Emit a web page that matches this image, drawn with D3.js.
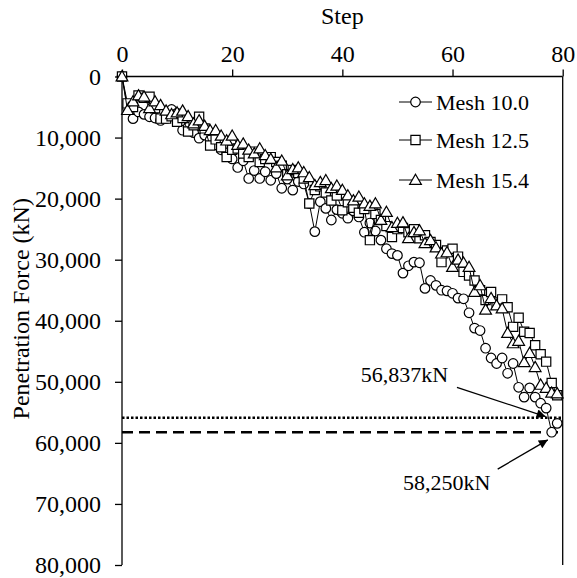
<!DOCTYPE html>
<html><head><meta charset="utf-8">
<script src="https://cdn.jsdelivr.net/npm/d3@7"></script>
<style>body{margin:0;background:#fff}svg{display:block}text{font-family:"Liberation Serif","Times New Roman",serif;fill:#000}</style>
</head><body><div id="chart"></div>
<script>
const seriesNames = ["Mesh 10.0", "Mesh 12.5", "Mesh 15.4"];
const xTicks = [0, 20, 40, 60, 80];
const yTicks = [0, 10000, 20000, 30000, 40000, 50000, 60000, 70000, 80000];
const mesh100 = [0,5200,6900,5800,6200,6600,6800,7200,6900,5400,6000,8800,8300,9200,10100,9600,10400,11200,12000,12500,13500,14900,13800,16700,15400,16700,15600,17000,15900,18300,16800,18600,17200,17600,20800,25400,20500,21600,23500,21800,22400,23200,22000,23000,25500,24000,25300,26800,28200,29000,29300,32200,31000,30400,30500,34700,33400,34200,35000,35100,35500,36300,36400,38700,41200,41600,44500,46100,47000,46100,48600,47000,50900,52500,51000,52500,53500,54300,58250,56800];
const mesh125 = [0,4400,5000,3100,3500,3300,5200,6900,6900,6500,7400,6800,9000,8000,6600,8500,11300,10300,11600,13200,12000,11800,12600,13200,12300,14000,13500,13200,14000,14600,16000,15300,15800,16700,20800,18600,18000,19000,20300,19500,21900,20600,21500,22300,21700,26800,22500,23500,24500,26300,25000,24800,25500,25000,26500,26000,27100,27600,30400,28500,28200,29500,32000,32600,33400,35000,36600,35300,37000,36500,37800,41000,39500,41800,42000,44000,45500,46700,50200,52200];
const mesh154 = [0,5500,4100,3100,3300,5200,4100,4700,5600,6200,5900,5600,6500,7700,7200,8100,8800,8800,9700,10500,9700,11200,11000,12000,12600,11800,12900,13500,14900,13800,16200,15200,14900,15700,16500,17800,17300,17000,18300,17900,18600,19500,20300,19700,20800,21200,20800,23500,22200,24700,24000,23900,26500,25500,25200,27300,26800,28000,29000,28800,31200,30000,30500,31200,35300,34200,38200,36300,37500,38000,42000,43700,43300,46800,45300,47600,50500,51000,51800,51900];
const refValues = [55900, 58250];
const refLabels = ["56,837kN", "58,250kN"];

const W = 577, H = 578;
const svg = d3.select("#chart").append("svg").attr("width", W).attr("height", H);
const x = d3.scaleLinear().domain([0, 80]).range([122, 562.7]);
const y = d3.scaleLinear().domain([0, 80000]).range([76.5, 565]);

// axes
const gx = svg.append("g").attr("transform", `translate(0,${y(0)})`)
  .call(d3.axisTop(x).tickValues(xTicks).tickSize(7).tickSizeOuter(0).tickPadding(8));
gx.selectAll("text").style("font-size", "24px").attr("fill", "#000");
const gy = svg.append("g").attr("transform", `translate(${x(0)},0)`)
  .call(d3.axisLeft(y).tickValues(yTicks).tickFormat(d3.format(",")).tickSize(7).tickSizeOuter(0).tickPadding(14));
gy.selectAll("text").style("font-size", "24px").attr("fill", "#000");
svg.selectAll(".domain, .tick line").attr("stroke", "#000").attr("stroke-width", 1.3);
gx.select(".domain").remove();
gy.select(".domain").remove();
svg.append("line").attr("x1", x(0)).attr("x2", x(80)).attr("y1", y(0)).attr("y2", y(0)).attr("stroke", "#000").attr("stroke-width", 1.3);
svg.append("line").attr("x1", x(0)).attr("x2", x(0)).attr("y1", y(0)).attr("y2", y(80000)).attr("stroke", "#000").attr("stroke-width", 1.3);
svg.append("line").attr("x1", x(80)).attr("x2", x(80)).attr("y1", y(0)).attr("y2", y(80000)).attr("stroke", "#000").attr("stroke-width", 1.3);

svg.append("text").attr("x", (x(0) + x(80)) / 2).attr("y", 24).attr("text-anchor", "middle").style("font-size", "24px").text("Step");
svg.append("text").attr("transform", `translate(29,${(y(0) + y(80000)) / 2 - 12}) rotate(-90)`).attr("text-anchor", "middle").style("font-size", "24px").text("Penetration Force (kN)");

// reference lines
svg.append("line").attr("x1", x(0)).attr("x2", x(80)).attr("y1", y(refValues[0])).attr("y2", y(refValues[0]))
  .attr("stroke", "#000").attr("stroke-width", 2.5).attr("stroke-dasharray", "2.5,2");
svg.append("line").attr("x1", x(0)).attr("x2", x(80)).attr("y1", y(refValues[1])).attr("y2", y(refValues[1]))
  .attr("stroke", "#000").attr("stroke-width", 2.5).attr("stroke-dasharray", "11,6");

// markers
const sym = [d3.symbolCircle, d3.symbolSquare, d3.symbolTriangle];
const symSize = [72, 85, 60];
const data = [mesh100, mesh125, mesh154];
const line = d3.line().x((d, i) => x(i)).y(d => y(d));
data.forEach((vals, k) => {
  const g = svg.append("g");
  g.append("path").attr("d", line(vals)).attr("fill", "none").attr("stroke", "#000").attr("stroke-width", 1);
  g.selectAll("path.m").data(vals).join("path").attr("class", "m")
    .attr("d", d3.symbol().type(sym[k]).size(symSize[k]))
    .attr("transform", (d, i) => `translate(${x(i)},${y(d) + (k === 2 ? 1 : 0)})`)
    .attr("fill", "#fff").attr("stroke", "#000").attr("stroke-width", 1.2);
});

// legend
const legY = [102, 140, 180];
seriesNames.forEach((n, k) => {
  const g = svg.append("g").attr("transform", `translate(0,${legY[k]})`);
  g.append("line").attr("x1", 399).attr("x2", 432).attr("stroke", "#000").attr("stroke-width", 1);
  g.append("path").attr("d", d3.symbol().type(sym[k]).size(symSize[k])()).attr("transform", `translate(415.5,${k === 2 ? 1 : 0})`)
    .attr("fill", "#fff").attr("stroke", "#000").attr("stroke-width", 1.2);
  g.append("text").attr("x", 436).attr("y", 8).style("font-size", "22px").text(n);
});

// annotations
const defs = svg.append("defs");
defs.append("marker").attr("id", "ah").attr("viewBox", "0 0 10 10").attr("refX", 10).attr("refY", 5)
  .attr("markerWidth", 12).attr("markerHeight", 9).attr("markerUnits", "userSpaceOnUse").attr("orient", "auto")
  .append("path").attr("d", "M0,0L10,5L0,10Z").attr("fill", "#000");
const ann = [
  {label: refLabels[0], tx: 59.2, ty: 50100, anchor: "end", x1: 60.8, y1: 50900, x2: 76.9, y2: 55700},
  {label: refLabels[1], tx: 51, ty: 67700, anchor: "start", x1: 68.2, y1: 64300, x2: 77.3, y2: 59500}
];
ann.forEach(a => {
  svg.append("text").attr("x", x(a.tx)).attr("y", y(a.ty)).attr("text-anchor", a.anchor).style("font-size", "22px").text(a.label);
  svg.append("line").attr("x1", x(a.x1)).attr("y1", y(a.y1)).attr("x2", x(a.x2)).attr("y2", y(a.y2))
    .attr("stroke", "#000").attr("stroke-width", 1.3).attr("marker-end", "url(#ah)");
});
</script></body></html>
